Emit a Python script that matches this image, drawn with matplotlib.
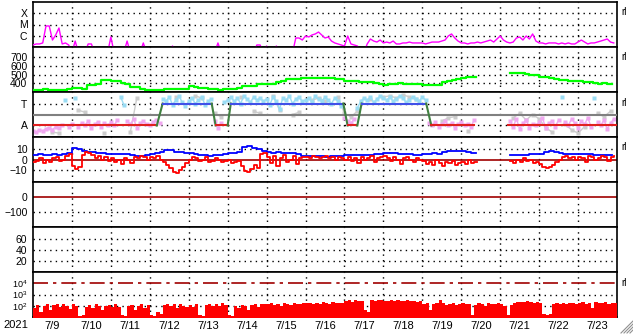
import numpy as np
import matplotlib.pyplot as plt
from matplotlib.lines import Line2D

plt.rcParams['font.family'] = ['Liberation Sans', 'DejaVu Sans']
plt.rcParams['mathtext.fontset'] = 'custom'
plt.rcParams['mathtext.rm'] = 'Liberation Sans'
nan = np.nan

days = ['7/9', '7/10', '7/11', '7/12', '7/13', '7/14', '7/15', '7/16',
        '7/17', '7/18', '7/19', '7/20', '7/21', '7/22', '7/23']
year = '2021'

# x-ray flux, log10 W/m2, 2-hour steps
xray_log = [
    -6.82, -6.73, -6.73, -6.64, -5.13, -5.13, -6.38, -5.93, -5.31, -6.73, -6.64, -6.82,
    -7.5, -6.47, -7.5, -7.5, -7.5, -6.73, -6.73, -7.5, -7.5, -7.5, -7.5, -7.5,
    -6.11, -7.5, -7.5, -7.5, -7.5, -6.47, -7.5, -7.5, -7.5, -7.5, -6.64, -7.5,
    -7.5, -7.5, -7.5, -7.5, -7.5, -7.5, -7.5, -6.91, -7.5, -7.5, -7.5, -7.5,
    -7.5, -7.5, -7.5, -7.5, -7.5, -7.5, -7.5, -7.5, -7.5, -6.64, -7.5, -7.5,
    -7.5, -7.5, -7.5, -7.5, -7.5, -7.5, -7.5, -7.5, -7.5, -6.82, -6.82, -7.5,
    -6.91, -7.5, -7.5, -6.91, -7.5, -7.5, -7.5, -7.5, -7.5, -6.2, -6.2, -6.38,
    -6.02, -6.11, -5.93, -5.84, -5.67, -5.93, -6.2, -6.11, -6.47, -6.64, -6.73, -6.82,
    -6.91, -6.02, -6.73, -6.82, -6.91, -7.5, -7.5, -6.73, -6.29, -6.47, -6.56, -6.38,
    -6.64, -6.56, -6.64, -6.47, -6.73, -6.73, -6.64, -6.64, -6.56, -6.64, -6.64, -6.64,
    -6.64, -6.73, -6.64, -6.56, -6.56, -6.56, -6.47, -6.38, -6.02, -5.84, -6.2, -6.47,
    -6.64, -6.64, -6.73, -6.64, -6.64, -6.56, -6.64, -6.56, -6.47, -6.38, -6.56, -6.29,
    -6.02, -6.38, -6.56, -6.64, -6.56, -6.2, -6.11, -6.38, -6.02, -6.29, -5.84, -6.47,
    -6.64, -6.64, -6.73, -6.64, -6.64, -6.64, -6.73, -6.64, -6.73, -6.64, -6.73, -6.73,
    -6.56, -6.38, -6.56, -6.73, -6.64, -6.64, -6.56, -6.47, -6.38, -6.29, -6.56, -6.64]

# solar wind speed km/s, 3-hour steps
speed = [
    328, 328, 330, 326, 328, 320, 322, 339,
    346, 344, 330, 385, 383, 388, 435, 432,
    427, 425, 400, 395, 360, 355, 330, 328,
    320, 320, 318, 338, 340, 336, 338, 340,
    366, 362, 348, 345, 340, 330, 328, 330,
    339, 338, 345, 366, 368, 372, 397, 395,
    388, 392, 420, 425, 445, 450, 452, 460,
    462, 462, 460, 458, 455, 455, 450, 445,
    430, 427, 425, 420, 415, 413, 405, 392,
    385, 387, 395, 398, 397, 395, 397, 392,
    385, 385, 377, 380, 420, 425, 440, 445,
    462, 466, 468, nan, nan, nan, nan, nan,
    nan, nan, 515, 519, 522, 505, 500, 490,
    470, 466, 460, 445, 443, 440, 430, 427,
    425, 412, 410, 400, 397, 398, 395, 397]

# sector: time (days from 7/9) and level (-1 away, 1 toward)
sector_t = [0, 3.18, 3.33, 4.59, 4.69, 5.0, 5.08, 7.97, 8.08, 8.33, 8.44,
            10.10, 10.23, 11.33, nan, 12.2, 15]
sector_v = [-1, -1, 1, 1, -1, -1, 1, 1, -1, -1, 1, 1, -1, -1, nan, -1, -1]

# IMF angle (panel units), 2-hour steps
phi = [
    -1.5, -1.6, -1.4, -1.5, -1.3, -1.2, -1.4, -1.1, -1.2, -1.0, 1.3, -1.1,
    -0.9, 1.5, -1.1, -0.8, -1.0, -0.6, -1.2, -0.9, -0.7, -1.1, -0.8, -1.0,
    -0.7, -1.0, -0.5, 1.6, 0.9, -0.6, -0.9, -0.4, -1.2, -0.8, -0.6, -0.9,
    -1.0, -0.7, -0.5, -0.8, 1.4, 1.2, 1.6, 0.9, 1.3, 1.7, 1.1, 0.8,
    1.2, 1.5, 1.0, 1.3, 1.6, 0.9, 1.2, 1.4, -0.6, -1.2, -0.8, 1.1,
    1.3, 1.6, 1.2, 1.5, 1.0, 1.7, 1.4, 1.1, 1.6, 1.3, 1.5, 1.2,
    1.4, 0.9, 1.6, 1.2, 0.5, 1.5, 1.3, 1.7, 1.0, 1.4, 1.6, 1.2,
    1.3, 1.5, 1.1, 1.7, 1.4, 1.2, 1.6, 1.3, 1.0, 1.5, 1.2, 0.8,
    -0.3, -0.6, -0.8, -0.4, 0.6, 1.2, 1.5, 1.3, 1.6, 1.1, 1.4, 1.7,
    1.5, 1.3, 1.6, 1.2, 1.4, 1.7, 1.5, 1.1, 1.3, 1.6, 1.4, 1.2,
    1.6, 1.3, -0.8, -1.0, -0.7, -1.1, -0.9, -0.6, -1.0, -0.8, -1.2, -0.9,
    -0.7, -1.0, -0.9, -1.1, -0.5, nan, nan, nan, nan, nan, nan, nan,
    nan, nan, nan, -0.6, -1.1, -0.4, -1.3, -0.8, -0.5, -1.2, -0.9, -1.0,
    -0.7, -0.3, -1.2, -0.8, -0.6, -1.1, -0.5, 1.6, -0.7, -1.0, -0.4, -0.8,
    -1.2, -0.6, -0.9, -0.3, -1.1, 1.5, -0.7, -1.0, -0.5, -1.3, -0.8, -0.4]

# second angle source (grey), 4-hour steps
phi_grey = [
    nan, nan, nan, -1.6, -1.7, nan,
    nan, 0.4, 0.2, nan, nan, -1.7,
    nan, nan, nan, -1.6, 1.5, nan,
    nan, nan, nan, nan, 1.6, nan,
    nan, 1.7, 1.5, nan, 0.1, -0.2,
    nan, nan, 1.6, nan, 0.3, 0.1,
    nan, 1.7, 0.4, nan, 0.0, 0.2,
    nan, 1.3, 1.5, 1.2, nan, 1.6,
    0.1, -0.2, 0.3, nan, 1.4, nan,
    1.6, 1.7, 1.5, 1.8, 1.6, 1.4,
    nan, nan, nan, -0.6, -0.3, -0.2,
    nan, -1.5, nan, nan, nan, nan,
    nan, nan, -0.3, 0.1, -0.5, 0.0,
    -0.4, -1.2, -1.6, nan, -0.9, -1.4,
    -1.7, -1.1, nan, 0.1, -0.2, 0.3]

# IMF Bt, 3-hour steps
bt = [
    4.5, 5, 4, 4.5, 5, 4, 5, 6,
    11, 10.5, 8, 7.5, 7, 6, 6, 5.5,
    5.5, 5, 5.5, 5, 4, 3.8, 3.5, 4,
    5, 6, 7, 9, 9.5, 7.5, 7, 6.5,
    6, 5.5, 4.5, 4, 3.8, 4, 4, 5,
    6, 6.5, 7, 12, 12.5, 11, 10, 8,
    7, 6.5, 7, 6.5, 6, 6, 5, 3.5,
    3, 3, 3.2, 3, 2.8, 3, 3, 3.2,
    4, 4.5, 4.5, 4, 4.5, 4.5, 5, 5.5,
    6, 6, 6, 5.5, 5, 5, 4.5, 4.5,
    5, 5.5, 6, 5, 7.5, 8, 8.5, 8,
    8, 7.5, 6, nan, nan, nan, nan, nan,
    nan, nan, 4, 4.5, 4, 4.5, 5, 5,
    5.5, 7, 8, 7.5, 6, 5.5, 5, 5,
    5, 5, 5, 4.5, 4.5, 4.5, 4, 4.5]

# IMF Bz, 2-hour steps
bz = [
    -2, -1, 1, -3, 0, -2, 1, 2, -1, 0, 3, 5,
    -6, -9, -7, 4, 7, 6, 4, 1, 3, 0, 2, -1,
    1, -2, 0, -4, 1, 0, -3, 2, 1, 3, 2, 0,
    2, 1, 3, 0, -2, -5, -8, -12, -13, -10, -7, -3,
    0, 2, 1, -1, 0, 2, -2, -1, 1, 0, -2, -1,
    0, -3, -2, -1, -6, -11, -12, -9, -5, -8, 5, 6,
    2, -3, 3, -6, 1, 4, -2, 0, 3, -4, 1, 2,
    2, 1, 3, 2, 1, 2, 3, 1, 2, 0, 2, 1,
    0, 2, -1, 1, -3, 2, 0, 1, 3, -2, 1, 2,
    3, 1, -1, 2, 0, -4, 1, 2, 0, -2, 1, 0,
    -1, -4, -2, -5, 0, -3, -6, -2, -3, -1, -5, -3,
    -2, -4, 0, -3, -2, nan, nan, nan, nan, nan, nan, nan,
    nan, nan, nan, -1, -3, 0, -2, 1, -1, 0, -3, -2,
    -4, -7, -8, -7, -5, -2, 0, 2, 3, 1, 2, 0,
    2, 1, -2, 3, 2, 0, 1, 3, 2, -1, 2, 3]

# particle flux, 2-hour steps
flux = [
    60, 120, 30, 90, 150, 45, 110, 140, 70, 130, 100, 55,
    140, 90, 12, 15, 80, 110, 60, 130, 100, 40, 90, 120,
    80, 130, 70, 15, 12, 90, 110, 45, 100, 140, 60, 120,
    15, 12, 30, 20, 110, 150, 90, 130, 60, 140, 100, 80,
    120, 70, 140, 15, 12, 110, 150, 90, 130, 100, 160, 120,
    14, 12, 90, 60, 120, 100, 40, 110, 130, 80, 140, 150,
    130, 160, 110, 150, 90, 170, 140, 120, 180, 150, 130, 170,
    160, 190, 140, 180, 130, 200, 170, 150, 210, 180, 160, 190,
    250, 300, 220, 350, 280, 260, 40, 30, 320, 280, 350, 300,
    280, 250, 320, 260, 300, 240, 270, 330, 250, 290, 230, 260,
    150, 180, 40, 130, 170, 300, 160, 120, 150, 180, 110, 140,
    160, 130, 150, 15, 120, 170, 140, 100, 160, 150, 130, 170,
    140, 90, 15, 120, 160, 200, 230, 210, 250, 220, 190, 230,
    160, 20, 15, 18, 130, 170, 150, 180, 140, 160, 190, 150,
    170, 200, 150, 190, 60, 210, 180, 160, 200, 140, 190, 170]

t2 = np.arange(180) / 12.0
t3 = np.arange(120) / 8.0
t4 = np.arange(90) / 6.0

W, H = 633, 334
fig = plt.figure(figsize=(W / 100, H / 100), dpi=100)
axes = []
for k in range(7):
    top = 2 + 45 * k
    ax = fig.add_axes([33 / W, 1 - (top + 45) / H, 584 / W, 45 / H])
    ax.set_xlim(0, 15)
    for s in ax.spines.values():
        s.set_linewidth(1.2)
    ax.tick_params(length=0, labelsize=7.5, pad=4)
    ax.set_xticks([])
    for d in range(1, 15):
        ax.axvline(d, color='black', lw=1, ls=(0, (1, 3)), zorder=1)
    axes.append(ax)

dot = dict(color='black', lw=1, ls=(0, (1, 3)), zorder=1)
darkred = '#a00000'

# 1: x-ray
ax = axes[0]
ax.set_yscale('log')
ax.set_ylim(1e-7, 1e-3)
ax.plot(t2, 10.0 ** np.array(xray_log), color='#ff00ff', lw=1, zorder=3)
for v in [1e-4, 1e-5, 1e-6]:
    ax.axhline(v, **dot)
ax.set_yticks([1e-4, 1e-5, 1e-6], ['X', 'M', 'C'])
ax.minorticks_off()

# 2: speed
ax = axes[1]
ax.set_ylim(300, 815)
ax.step(t3, speed, where='post', color='#00ff00', lw=1.6, zorder=3)
for v in [400, 500, 600, 700]:
    ax.axhline(v, **dot)
ax.set_yticks([400, 500, 600, 700])

# 3: sector
ax = axes[2]
ax.set_ylim(-2.05, 2.05)
ph = np.array(phi)
ax.plot(t4, phi_grey, color='#cccccc', lw=1, marker='s', ms=2.5, mec='none', zorder=2)
ax.plot(t2, np.where(ph > 0, ph, nan), color='#9adcf4', lw=1, marker='s', ms=2.5, mec='none', zorder=2)
ax.plot(t2, np.where(ph < 0, ph, nan), color='#f0a8f0', lw=1, marker='s', ms=2.5, mec='none', zorder=2)
for v in [1, -1]:
    ax.axhline(v, **dot)
ax.axhline(0, color='#808080', lw=1.5, zorder=3)
for i in range(len(sector_t) - 1):
    v0, v1 = sector_v[i], sector_v[i + 1]
    if np.isnan(v0) or np.isnan(v1):
        continue
    if v0 == v1:
        c = '#e02020' if v0 < 0 else '#4050e8'
    else:
        c = '#408040'
    ax.plot(sector_t[i:i + 2], [v0, v1], color=c, lw=1.5, zorder=4)
ax.set_yticks([1, -1], ['T', 'A'])

# 4: IMF
ax = axes[3]
ax.set_ylim(-21.5, 21.5)
for v in [10, -10]:
    ax.axhline(v, **dot)
ax.axhline(0, color=darkred, lw=1.2, zorder=2)
ax.step(t3, bt, where='post', color='#0000ff', lw=1.3, zorder=3)
ax.step(t2, bz, where='post', color='#ff0000', lw=1.3, zorder=4)
ax.set_yticks([10, 0, -10])

# 5: Dst
ax = axes[4]
ax.set_ylim(-200, 100)
ax.axhline(-100, **dot)
ax.axhline(0, color=darkred, lw=1.2, zorder=2)
ax.set_yticks([0, -100])

# 6
ax = axes[5]
ax.set_ylim(0, 82)
for v in [20, 40, 60]:
    ax.axhline(v, **dot)
ax.set_yticks([60, 40, 20])

# 7: particle flux
ax = axes[6]
ax.set_yscale('log')
ax.set_ylim(10, 1e5)
for v in [1e2, 1e3]:
    ax.axhline(v, **dot)
ax.axhline(1e4, color=darkred, lw=1.2, ls=(0, (9, 3, 2, 3)), zorder=2)
ax.fill_between(np.append(t2, 15), np.append(flux, flux[-1]), 1, step='post',
                color='#ff0000', lw=0, zorder=3)
ax.set_yticks([1e4, 1e3, 1e2], ['$10^4$', '$10^3$', '$10^2$'])
ax.tick_params(axis='y', labelsize=6.5)
ax.minorticks_off()
ax.set_xticks(np.arange(15) + 0.5, days)
ax.tick_params(axis='x', labelsize=8, pad=3)

fig.text(16 / W, 1 - 325 / H, year, fontsize=8, ha='center', va='center')
for y in [12, 57, 103, 147, 283]:
    fig.text(621 / W, 1 - y / H, 'rl', fontsize=7, ha='left', va='center')
for k in range(4):
    x0 = 621 + 3 * k
    fig.add_artist(Line2D([x0 / W, 633 / W], [1 - 333 / H, 1 - (333 - (633 - x0)) / H],
                          color='#909090', lw=0.8))

fig.savefig('out.png', dpi=100)
